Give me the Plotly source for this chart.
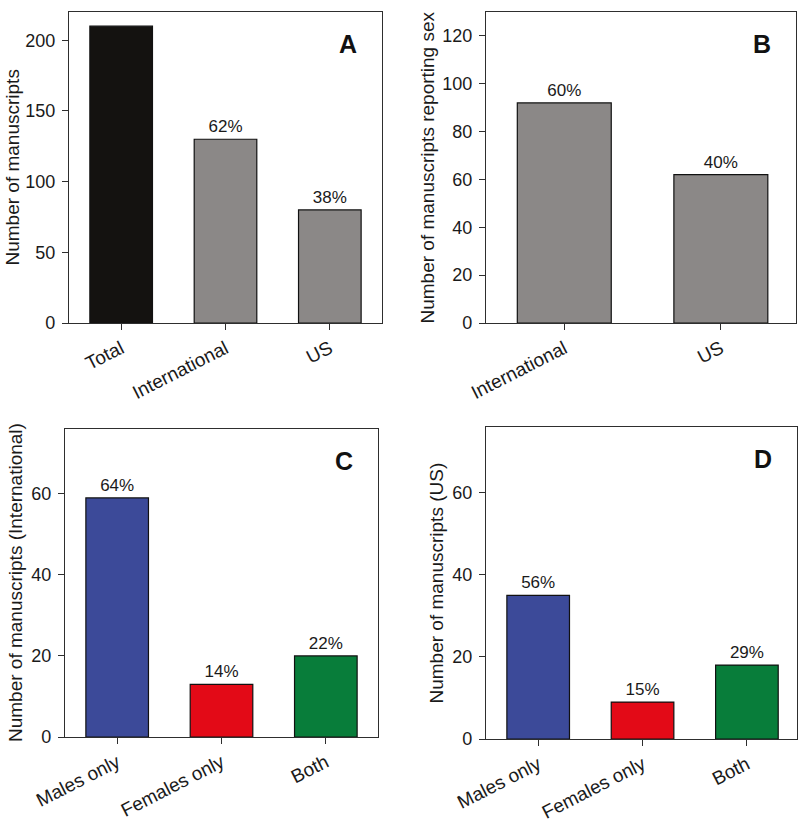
import plotly.graph_objects as go

# ---- data ----
a_cats = ["Total", "International", "US"]
a_vals = [210, 130, 80]
a_pct = ["", "62%", "38%"]

b_cats = ["International", "US"]
b_vals = [92, 62]
b_pct = ["60%", "40%"]

c_cats = ["Males only", "Females only", "Both"]
c_vals = [59, 13, 20]
c_pct = ["64%", "14%", "22%"]

d_cats = ["Males only", "Females only", "Both"]
d_vals = [35, 9, 18]
d_pct = ["56%", "15%", "29%"]

a_colors = ["#141210", "#8b8887", "#8b8887"]
b_colors = ["#8b8887", "#8b8887"]
sex_colors = ["#3c4a99", "#e30a17", "#087d3a"]

FONT = "Liberation Sans, Arial, sans-serif"
TXT = "#1a1a1a"
LINE = "#2e2e2e"

W, H = 800, 825

def px_x(p):
    return p / W

def px_y(p):
    return 1 - p / H

fig = go.Figure()

panels = [
    (a_cats, a_vals, a_pct, a_colors, "x", "y", (69, 382), (12, 323), [0, 220], 50, [-0.5, 2.5], "A",
     "Number of manuscripts", 12),
    (b_cats, b_vals, b_pct, b_colors, "x2", "y2", (486, 796), (12, 323), [0, 130], 20, [-0.5, 1.48], "B",
     "Number of manuscripts reporting sex", 427),
    (c_cats, c_vals, c_pct, sex_colors, "x3", "y3", (65, 378), (429, 737), [0, 76], 20, [-0.5, 2.5], "C",
     "Number of manuscripts (International)", 15),
    (d_cats, d_vals, d_pct, sex_colors, "x4", "y4", (486, 797), (427, 739), [0, 76], 20, [-0.5, 2.48], "D",
     "Number of manuscripts (US)", 435.5),
]

annotations = []
for i, (cats, vals, pct, cols, xa, ya, xd, yd, yr, dt, xr, lab, title, tx) in enumerate(panels):
    fig.add_trace(go.Bar(
        x=cats, y=vals, text=pct, textposition="outside",
        textfont=dict(family=FONT, size=17, color=TXT),
        marker=dict(color=cols, line=dict(color="#111111", width=1.2)),
        width=0.6, xaxis=xa, yaxis=ya, cliponaxis=False, showlegend=False,
        hoverinfo="x+y",
    ))
    suffix = "" if i == 0 else str(i + 1)
    fig.layout["xaxis" + suffix] = dict(
        domain=[px_x(xd[0]), px_x(xd[1])], range=xr, anchor=ya, automargin=False,
        showline=True, linecolor=LINE, linewidth=1.4, mirror=True,
        ticks="outside", ticklen=6, tickwidth=1.3, tickcolor=LINE,
        tickangle=-27, tickfont=dict(family=FONT, size=19, color=TXT),
        showgrid=False, zeroline=False, fixedrange=True,
    )
    fig.layout["yaxis" + suffix] = dict(
        domain=[px_y(yd[1]), px_y(yd[0])], range=yr, anchor=xa, dtick=dt, automargin=False,
        showline=True, linecolor=LINE, linewidth=1.4, mirror=True,
        ticks="outside", ticklen=6, tickwidth=1.3, tickcolor=LINE,
        tickfont=dict(family=FONT, size=18, color=TXT), ticklabelstandoff=3,
        showgrid=False, zeroline=False, fixedrange=True,
    )
    annotations.append(dict(
        x=px_x(xd[1] - 34), y=px_y(yd[0] + 32), xref="paper", yref="paper",
        text="<b>%s</b>" % lab, showarrow=False, xanchor="center", yanchor="middle",
        font=dict(family=FONT, size=25, color="#111111"),
    ))
    annotations.append(dict(
        x=px_x(tx), y=px_y((yd[0] + yd[1]) / 2), xref="paper", yref="paper",
        text=title, showarrow=False, textangle=-90, xanchor="center", yanchor="middle",
        font=dict(family=FONT, size=19, color=TXT),
    ))

fig.update_layout(
    template="none",
    width=W, height=H, margin=dict(l=0, r=0, t=0, b=0, pad=0),
    paper_bgcolor="white", plot_bgcolor="white",
    annotations=annotations, bargap=0.4,
    font=dict(family=FONT, color=TXT),
)

fig.write_html("out.html", config={"displayModeBar": False},
               post_script="document.body.style.margin='0';")
